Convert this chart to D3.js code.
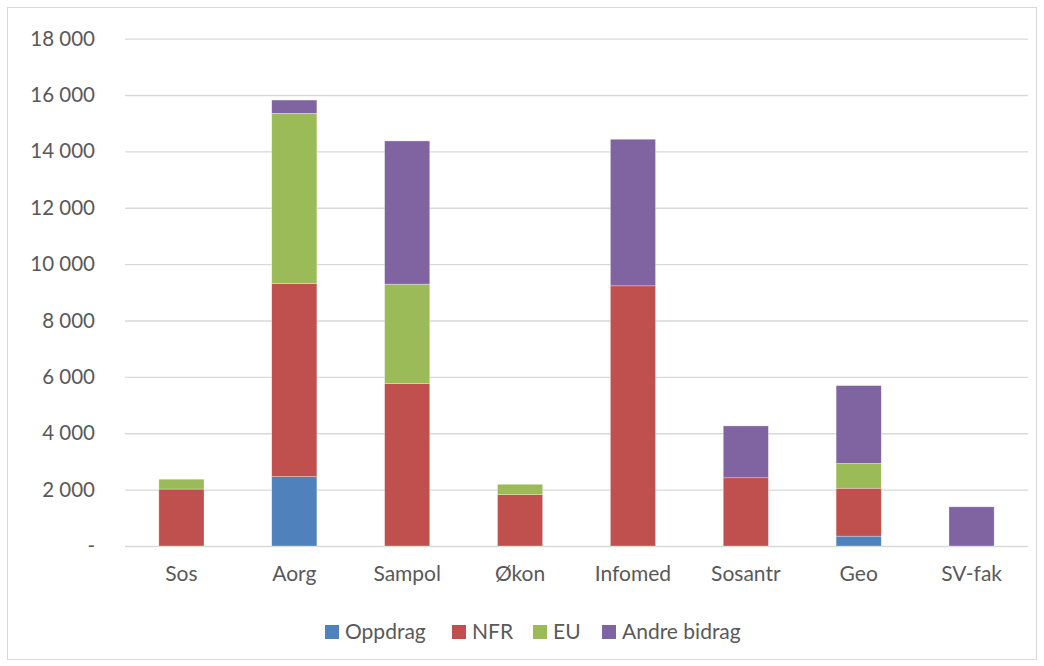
<!DOCTYPE html>
<html>
<head>
<meta charset="utf-8">
<script src="https://cdn.jsdelivr.net/npm/d3@7"></script>
<style>
  body { margin: 0; background: #fff; }
  text { font-family: Lato, "Open Sans", sans-serif; fill: #595959; }
</style>
</head>
<body>
<div id="container"></div>
<script>
const w = 1044,
  h = 666,
  margin = { top: 38.6, right: 16, bottom: 120, left: 125 },
  fontSize = 21;

const categories = ['Sos', 'Aorg', 'Sampol', 'Økon', 'Infomed', 'Sosantr', 'Geo', 'SV-fak'];
const seriesNames = ['Oppdrag', 'NFR', 'EU', 'Andre bidrag'];
const colors = ['#4f81bd', '#c0504d', '#9bbb59', '#8064a2'];

const oppdrag = [0, 2460, 0, 0, 0, 0, 350, 0];
const nfr = [2020, 6850, 5760, 1820, 9230, 2420, 1700, 0];
const eu = [350, 6040, 3530, 370, 0, 0, 880, 0];
const andre = [0, 470, 5080, 0, 5200, 1840, 2760, 1390];

const yTicks = [0, 2000, 4000, 6000, 8000, 10000, 12000, 14000, 16000, 18000];

const rows = categories.map((c, i) => ({
  cat: c,
  'Oppdrag': oppdrag[i],
  'NFR': nfr[i],
  'EU': eu[i],
  'Andre bidrag': andre[i],
}));

const stacked = d3.stack().keys(seriesNames)(rows);

const svg = d3
  .select('#container')
  .append('svg')
  .attr('width', w)
  .attr('height', h);

// chart border
svg
  .append('rect')
  .attr('x', 7.5)
  .attr('y', 7.5)
  .attr('width', w - 15)
  .attr('height', h - 14)
  .attr('fill', 'none')
  .attr('stroke', '#d9d9d9');

const plotW = w - margin.left - margin.right;
const plotH = 546 - margin.top;

const xScale = d3.scaleBand().domain(categories).range([0, plotW]).paddingInner(0.6).paddingOuter(0.3);
const yScale = d3.scaleLinear().domain([0, 18000]).range([plotH, 0]);

const g = svg
  .append('g')
  .attr('transform', 'translate(' + margin.left + ', ' + margin.top + ')');

const yAxis = d3
  .axisLeft(yScale)
  .tickValues(yTicks)
  .tickSize(-plotW)
  .tickPadding(30)
  .tickFormat((d) => (d === 0 ? '-' : d3.format(',')(d).replace(/,/g, ' ')));

g.append('g')
  .attr('id', 'y-axis')
  .call(yAxis)
  .call((s) => s.select('.domain').remove())
  .call((s) => s.selectAll('line').attr('stroke', '#d9d9d9').attr('stroke-width', 1.3))
  .call((s) => s.selectAll('text').attr('font-size', fontSize - 0.5).attr('fill', '#595959'));

g.selectAll('.series')
  .data(stacked)
  .enter()
  .append('g')
  .attr('fill', (d, i) => colors[i])
  .selectAll('rect')
  .data((d) => d)
  .enter()
  .append('rect')
  .attr('x', (d) => xScale(d.data.cat))
  .attr('width', xScale.bandwidth())
  .attr('y', (d) => yScale(d[1]))
  .attr('height', (d) => yScale(d[0]) - yScale(d[1]))
  .attr('stroke', '#fff')
  .attr('stroke-width', 0.6)
  .attr('stroke-opacity', 0.5);

const xAxis = d3.axisBottom(xScale).tickSize(0).tickPadding(20);

g.append('g')
  .attr('id', 'x-axis')
  .attr('transform', 'translate(0, ' + plotH + ')')
  .call(xAxis)
  .call((s) => s.select('.domain').remove())
  .call((s) => s.selectAll('text').attr('font-size', fontSize).attr('fill', '#595959'));

// legend
const legendX = [325, 452, 533, 602];
const legend = svg.append('g').attr('id', 'legend');
const items = legend
  .selectAll('g')
  .data(seriesNames)
  .enter()
  .append('g')
  .attr('transform', (d, i) => 'translate(' + legendX[i] + ', 625)');

items
  .append('rect')
  .attr('width', 14)
  .attr('height', 14)
  .attr('fill', (d, i) => colors[i]);

items
  .append('text')
  .attr('x', 20)
  .attr('y', 7)
  .attr('dy', '0.35em')
  .attr('font-size', fontSize)
  .text((d) => d);
</script>
</body>
</html>
